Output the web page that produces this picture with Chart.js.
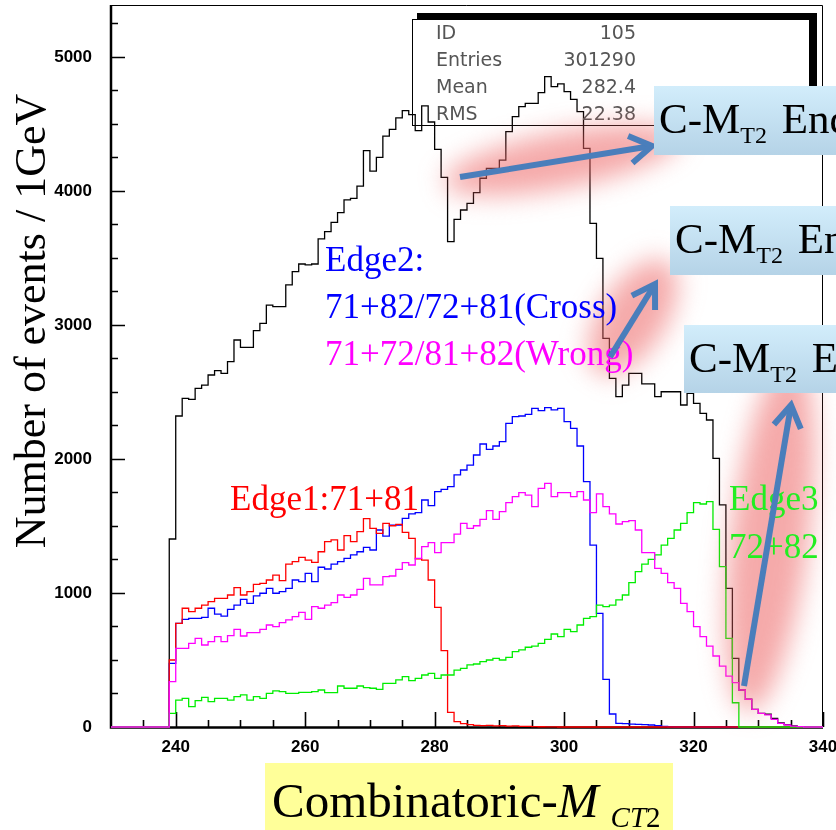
<!DOCTYPE html>
<html><head><meta charset="utf-8">
<script src="https://cdn.jsdelivr.net/npm/chart.js@4"></script>
<style>
html,body{margin:0;padding:0;background:#fff;}
#wrap{position:relative;width:836px;height:830px;overflow:hidden;background:#fff;}
#c{position:absolute;left:0;top:0;}
.t{position:absolute;white-space:nowrap;line-height:1;}
.serif{font-family:"Liberation Serif","Times New Roman",serif;}
.lab{font-size:35px;}
.glow{position:absolute;background:rgba(236,100,100,0.55);border-radius:50%;filter:blur(13px);}
.stat{font-family:"DejaVu Sans",sans-serif;font-size:19px;color:#555;}
.box{position:absolute;height:69px;width:260px;background:linear-gradient(#d2edfb,#b5d3e7);}
.box span.txt{position:absolute;left:5px;top:11px;font-size:43px;color:#000;white-space:nowrap;line-height:1;}
.sub{font-size:24px;position:relative;top:10px;margin-right:4px;}
</style></head><body>
<div id="wrap">
<canvas id="c" width="836" height="830"></canvas>

<!-- stat box -->
<div style="position:absolute;left:412px;top:19px;width:398px;height:107px;border:1px solid #000;box-sizing:border-box;"></div>
<div style="position:absolute;left:417px;top:13px;width:400px;height:6px;background:#000;"></div>
<div style="position:absolute;left:810px;top:13px;width:7px;height:113px;background:#000;"></div>
<div class="t stat" style="left:436px;top:23px;">ID</div>
<div class="t stat" style="left:436px;top:50px;">Entries</div>
<div class="t stat" style="left:436px;top:77px;">Mean</div>
<div class="t stat" style="left:436px;top:104px;">RMS</div>
<div class="t stat" style="left:536px;width:100px;text-align:right;top:23px;">105</div>
<div class="t stat" style="left:536px;width:100px;text-align:right;top:50px;">301290</div>
<div class="t stat" style="left:536px;width:100px;text-align:right;top:77px;">282.4</div>
<div class="t stat" style="left:536px;width:100px;text-align:right;top:104px;">22.38</div>

<!-- glows -->
<div class="glow" style="left:442px;top:132px;width:240px;height:56px;transform:rotate(-10.8deg);"></div>
<div class="glow" style="left:568px;top:284px;width:130px;height:66px;transform:rotate(-57.5deg);"></div>
<div class="glow" style="left:592px;top:496px;width:356px;height:78px;transform:rotate(-82.9deg);"></div>

<!-- labels -->
<div class="t serif lab" style="left:325px;top:242px;color:#0000ff;">Edge2:</div>
<div class="t serif lab" style="left:325px;top:289px;color:#0000ff;">71+82/72+81(Cross)</div>
<div class="t serif lab" style="left:325px;top:336px;color:#ff00ff;">71+72/81+82(Wrong)</div>
<div class="t serif lab" style="left:230px;top:481px;color:#ff0000;">Edge1:71+81</div>
<div class="t serif lab" style="left:729px;top:481px;color:#22ee22;">Edge3</div>
<div class="t serif lab" style="left:729px;top:529px;color:#22ee22;">72+82</div>

<svg id="arrows" width="836" height="830" style="position:absolute;left:0;top:0;"></svg>

<!-- boxes -->
<div class="box" style="left:654px;top:86px;"><span class="txt serif">C-M<span class="sub">T2</span> Endpoint</span></div>
<div class="box" style="left:670px;top:206px;"><span class="txt serif">C-M<span class="sub">T2</span> Endpoint</span></div>
<div class="box" style="left:684px;top:325px;height:68px;"><span class="txt serif">C-M<span class="sub">T2</span> Endpoint</span></div>

<!-- axis titles -->
<div class="t serif" style="left:-269px;top:296px;width:600px;height:50px;line-height:50px;text-align:center;font-size:44px;color:#000;transform:rotate(-90deg);">Number of events / 1GeV</div>
<div style="position:absolute;left:265px;top:763px;width:408px;height:70px;background:#ffff99;"></div>
<div class="t serif" style="left:272px;top:776px;font-size:49px;color:#000;">Combinatoric-<i style="margin-right:12px;">M</i><span style="font-size:29px;position:relative;top:10px;"><i>CT</i>2</span></div>
</div>

<script>
const xMin = 230, xMax = 340, yMax = 5388;
const firstBin = 239;
const xTickLabels = [240, 260, 280, 300, 320, 340];
const yTickLabels = [0, 1000, 2000, 3000, 4000, 5000];

const totalAll = [1403,2321,2453,2445,2527,2552,2627,2659,2639,2726,
2888,2833,2833,2958,3012,3149,3137,3137,3299,3398,
3455,3448,3455,3642,3697,3766,3838,3933,3945,4037,
4301,4149,4251,4410,4460,4545,4600,4570,4450,4635,
4515,4311,4102,3622,3788,3858,3908,3988,4095,4169,
4169,4231,4443,4555,4629,4654,4654,4734,4853,4779,
4799,4741,4684,4592,4318,3759,3497,2900,2602,2465,
2552,2639,2639,2560,2560,2465,2502,2502,2502,2403,
2490,2415,2341,2291,2005,1657,1035,512,276,207,
132,102,95,65,30,18,8,3];

const edge1 = [500,774,886,861,886,910,935,960,960,985,
1040,985,1010,1065,1072,1097,1134,1092,1216,1234,
1266,1246,1229,1308,1383,1396,1321,1428,1383,1458,
1555,1483,1445,1520,1502,1512,1453,1408,1254,1246,
1097,893,570,109,40,25,18,12,10,12,
8,10,6,8,5,4,3,2,1,1];

const cross = [475,774,803,811,811,818,886,843,828,878,
910,953,923,978,998,1035,998,1010,1035,1097,
1085,1147,1085,1192,1179,1216,1234,1259,1284,1308,
1341,1321,1470,1425,1507,1507,1557,1590,1600,1694,
1652,1756,1774,1794,1881,1918,1955,2030,2112,2072,
2097,2129,2266,2316,2321,2333,2378,2361,2383,2366,
2378,2279,2229,2097,1831,1358,848,356,97,27,
25,22,20,18,15,10,5,2];

const wrong = [338,587,587,624,662,612,637,674,637,682,
729,679,704,704,729,761,749,779,799,823,
856,803,898,886,910,928,985,968,985,1027,
1109,1060,1060,1122,1127,1177,1226,1209,1259,1346,
1376,1301,1376,1376,1440,1520,1483,1502,1550,1614,
1550,1607,1674,1719,1749,1731,1644,1781,1818,1719,
1749,1749,1719,1756,1694,1600,1739,1644,1590,1515,
1532,1540,1470,1301,1301,1184,1147,1077,1035,923,
861,749,674,604,530,455,380,331,276,207,
132,102,90,57,27,15,7,3];

const edge3 = [102,201,214,152,197,221,189,214,214,201,
226,239,201,226,214,251,269,264,251,251,
259,259,264,276,256,256,306,289,289,306,
294,289,281,326,326,351,376,346,363,388,
400,363,388,388,425,438,463,470,488,500,
512,500,520,562,575,595,604,624,654,694,
674,729,711,761,811,823,910,898,910,948,
985,1077,1159,1216,1251,1284,1358,1408,1470,1520,
1600,1674,1664,1682,1475,1197,662,181];

function steps(vals) {
  const pts = [];
  for (let b = xMin; b < xMax; b++) {
    const i = b - firstBin;
    pts.push({x: b, y: (i >= 0 && i < vals.length) ? vals[i] : 0});
  }
  pts.push({x: xMax, y: 0});
  return pts;
}

function ds(vals, color) {
  return {data: steps(vals), borderColor: color, borderWidth: 1.3, pointRadius: 0,
          stepped: 'before', fill: false, tension: 0, clip: 4};
}

const framePlugin = {
  id: 'frame',
  beforeDatasetsDraw(chart) {
    const {ctx, chartArea: a, scales: {x, y}} = chart;
    ctx.save();
    ctx.strokeStyle = '#000';
    ctx.lineWidth = 1;
    ctx.beginPath();
    ctx.moveTo(a.left, a.top + 0.5);
    ctx.lineTo(a.right - 0.5, a.top + 0.5);
    ctx.lineTo(a.right - 0.5, a.bottom);
    ctx.stroke();
    ctx.lineWidth = 2.5;
    ctx.beginPath();
    ctx.moveTo(a.left, a.top);
    ctx.lineTo(a.left, a.bottom + 0.5);
    ctx.lineTo(a.right, a.bottom + 0.5);
    ctx.stroke();
    ctx.lineWidth = 1.6;
    ctx.beginPath();
    for (let v = 235; v <= 340; v += 5) {
      const px = Math.round(x.getPixelForValue(v)) + 0.5;
      const len = xTickLabels.includes(v) ? 15 : 7;
      ctx.moveTo(px, a.bottom);
      ctx.lineTo(px, a.bottom - len);
    }
    for (let v = 250; v <= 5250; v += 250) {
      const py = Math.round(y.getPixelForValue(v)) + 0.5;
      const len = (v % 1000 === 0) ? 14 : 7;
      ctx.moveTo(a.left, py);
      ctx.lineTo(a.left + len, py);
    }
    ctx.stroke();
    ctx.restore();
  }
};

new Chart(document.getElementById('c'), {
  type: 'line',
  data: {datasets: [
    ds(wrong, '#ff00ff'),
    ds(edge3, '#00ee00'),
    ds(edge1, '#ff0000'),
    ds(cross, '#0000ff'),
    ds(totalAll, '#000000')
  ]},
  options: {
    responsive: false, animation: false, devicePixelRatio: 1,
    layout: {padding: {left: 0, right: 13, top: 5, bottom: 0}},
    plugins: {legend: {display: false}, tooltip: {enabled: false}},
    scales: {
      x: {type: 'linear', min: xMin, max: xMax,
          grid: {display: false, drawTicks: false}, border: {display: false},
          afterBuildTicks: s => { s.ticks = xTickLabels.map(v => ({value: v})); },
          afterFit: s => { s.height = 103; s.paddingLeft = 0; s.paddingRight = 0; s.paddingTop = 0; s.paddingBottom = 0; },
          ticks: {padding: 10, maxRotation: 0, autoSkip: false, color: '#000',
                  font: {family: 'Liberation Sans', weight: 'bold', size: 17},
                  callback: v => String(v)}},
      y: {type: 'linear', min: 0, max: yMax,
          grid: {display: false, drawTicks: false}, border: {display: false},
          afterBuildTicks: s => { s.ticks = yTickLabels.map(v => ({value: v})); },
          afterFit: s => { s.width = 111; s.paddingLeft = 0; s.paddingRight = 0; s.paddingTop = 0; s.paddingBottom = 0; },
          ticks: {padding: 19, color: '#000',
                  font: {family: 'Liberation Sans', weight: 'bold', size: 17},
                  callback: v => String(v)}}
    }
  },
  plugins: [framePlugin]
});

// arrows
const svg = document.getElementById('arrows');
const NS = 'http://www.w3.org/2000/svg';
function arrow(x1, y1, x2, y2) {
  const dx = x2 - x1, dy = y2 - y1, L = Math.hypot(dx, dy);
  const ux = dx / L, uy = dy / L, h = 22, w = 0.62;
  const l = document.createElementNS(NS, 'line');
  l.setAttribute('x1', x1); l.setAttribute('y1', y1);
  l.setAttribute('x2', x2 - ux * 2); l.setAttribute('y2', y2 - uy * 2);
  const p = document.createElementNS(NS, 'polyline');
  const bx = x2 - ux * h, by = y2 - uy * h;
  p.setAttribute('points', `${bx - uy * h * w},${by + ux * h * w} ${x2},${y2} ${bx + uy * h * w},${by - ux * h * w}`);
  [l, p].forEach(e => {
    e.setAttribute('stroke', '#4a7ebb'); e.setAttribute('stroke-width', '6');
    e.setAttribute('fill', 'none'); e.setAttribute('stroke-linejoin', 'miter');
    svg.appendChild(e);
  });
}
arrow(460, 177, 652, 146);
arrow(610, 357, 655, 284);
arrow(744, 686, 791, 405);
</script>
</body></html>
